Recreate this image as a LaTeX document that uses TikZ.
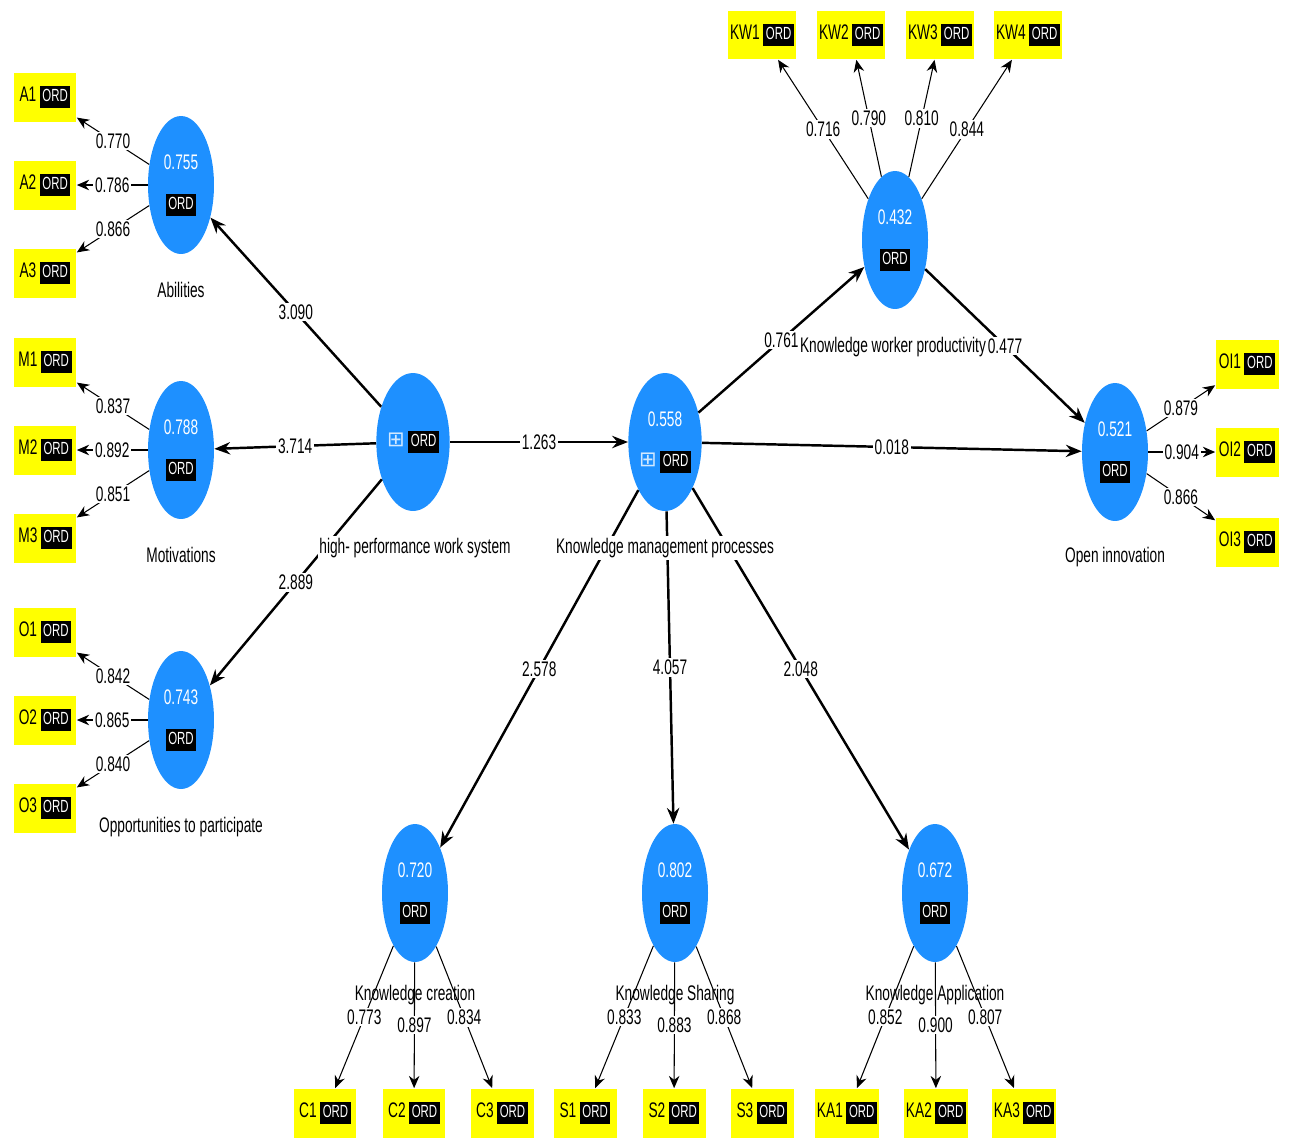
\documentclass[tikz,border=0pt]{standalone}
\usepackage{fontspec}
\setmainfont[FakeStretch=0.65]{Liberation Sans}
\newfontfamily\symfont{DejaVu Sans}
\usetikzlibrary{arrows.meta,shapes.geometric}

\definecolor{lvblue}{RGB}{30,144,255}
\definecolor{mvyellow}{RGB}{255,255,0}
\newcommand{\ord}{{\fontsize{10}{12}\selectfont\setlength{\fboxsep}{1.5pt}\colorbox{black}{\rule[-2pt]{0pt}{9.5pt}\color{white}ORD}}}
\newcommand{\lvtext}[1]{{\color{white}#1}\\[9pt]\ord}
\newcommand{\hosym}{{\symfont\color{white!80!lvblue}⊞}}

\tikzset{
    lv/.style={ellipse, fill=lvblue, minimum width=1.32cm, minimum height=2.76cm, inner sep=0pt, align=center},
    mv/.style={fill=mvyellow, minimum width=1.26cm, minimum height=0.98cm, inner sep=1pt},
    lvname/.style={fill=white, inner sep=1pt},
    pathc/.style={line width=1.4pt, -{Stealth[length=9pt,width=7pt]}},
    load/.style={line width=0.6pt, -{Stealth[length=7pt,width=6pt]}},
    coef/.style={midway, fill=white, inner sep=1pt},
}

\begin{document}
\begin{tikzpicture}[x=0.02cm, y=-0.02cm, font=\fontsize{12}{14}\selectfont]
    \useasboundingbox (0,0) rectangle (1291,1140);

    % latent variables
    \node[lv] (abil) at (181,185) {\lvtext{0.755}};
    \node[lv] (motiv) at (181,450) {\lvtext{0.788}};
    \node[lv] (oppo) at (181,720) {\lvtext{0.743}};
    \node[lv] (hpws) at (413,442) {\hosym\,\ord};
    \node[lv] (kmp) at (665,442) {{\color{white}0.558}\\[9pt]\hosym\,\ord};
    \node[lv] (kwp) at (895,240) {\lvtext{0.432}};
    \node[lv] (oi) at (1115,452) {\lvtext{0.521}};
    \node[lv] (kc) at (415,893) {\lvtext{0.720}};
    \node[lv] (ks) at (675,893) {\lvtext{0.802}};
    \node[lv] (ka) at (935,893) {\lvtext{0.672}};

    % indicators
    \foreach \n/\y in {1/97, 2/185, 3/273} {
        \node[mv] (a\n) at (45,\y) {A\n\,\ord};
        \node[mv] (m\n) at (45,{\y+265}) {M\n\,\ord};
        \node[mv] (o\n) at (45,{\y+535}) {O\n\,\ord};
    }
    \foreach \n/\x in {1/762, 2/851, 3/940, 4/1028}
        \node[mv] (kw\n) at (\x,35) {KW\n\,\ord};
    \foreach \n/\y in {1/364, 2/452, 3/542}
        \node[mv] (oi\n) at (1247,\y) {OI\n\,\ord};
    \foreach \n/\x in {1/0, 2/89, 3/177} {
        \node[mv] (c\n) at ({325+\x},1113) {C\n\,\ord};
        \node[mv] (s\n) at ({585+\x},1113) {S\n\,\ord};
        \node[mv] (ka\n) at ({847+\x},1113) {KA\n\,\ord};
    }

    % construct names
    \node[lvname] (kwp-n) at (893,347) {Knowledge worker productivity};

    % structural paths
    \draw[pathc] (hpws) -- (abil) node[coef] {3.090};
    \draw[pathc] (hpws) -- (motiv) node[coef] {3.714};
    \draw[pathc] (hpws) -- (oppo) node[coef] {2.889};
    \draw[pathc] (hpws) -- (kmp) node[coef] {1.263};
    \draw[pathc] (kmp) -- (kwp) node[coef] {0.761};
    \draw[pathc] (kmp) -- (oi) node[coef] {0.018};
    \draw[pathc] (kwp) -- (oi) node[coef] {0.477};
    \draw[pathc] (kmp) -- (kc) node[coef] {2.578};
    \draw[pathc] (kmp) -- (ks) node[coef] {4.057};
    \draw[pathc] (kmp) -- (ka) node[coef] {2.048};

    \node[lvname] (abil-n) at (181,290) {Abilities};
    \node[lvname] (motiv-n) at (181,555) {Motivations};
    \node[lvname] (oppo-n) at (181,827) {Opportunities to participate};
    \node[lvname] (hpws-n) at (415,548) {high- performance work system};
    \node[lvname] (kmp-n) at (665,548) {Knowledge management processes};
    \node[lvname] (oi-n) at (1115,557) {Open innovation};
    \node[lvname] (kc-n) at (415,995) {Knowledge creation};
    \node[lvname] (ks-n) at (675,995) {Knowledge Sharing};
    \node[lvname] (ka-n) at (935,995) {Knowledge Application};

    % outer loadings
    \foreach \n/\l in {1/0.770, 2/0.786, 3/0.866}
        \draw[load] (abil) -- (a\n) node[coef] {\l};
    \foreach \n/\l in {1/0.837, 2/0.892, 3/0.851}
        \draw[load] (motiv) -- (m\n) node[coef] {\l};
    \foreach \n/\l in {1/0.842, 2/0.865, 3/0.840}
        \draw[load] (oppo) -- (o\n) node[coef] {\l};
    \foreach \n/\l in {1/0.716, 2/0.790, 3/0.810, 4/0.844}
        \draw[load] (kwp) -- (kw\n) node[coef] {\l};
    \foreach \n/\l in {1/0.879, 2/0.904, 3/0.866}
        \draw[load] (oi) -- (oi\n) node[coef] {\l};
    \foreach \n/\l in {1/0.773, 2/0.897, 3/0.834}
        \draw[load] (kc) -- (c\n) node[coef] {\l};
    \foreach \n/\l in {1/0.833, 2/0.883, 3/0.868}
        \draw[load] (ks) -- (s\n) node[coef] {\l};
    \foreach \n/\l in {1/0.852, 2/0.900, 3/0.807}
        \draw[load] (ka) -- (ka\n) node[coef] {\l};

\end{tikzpicture}
\end{document}
